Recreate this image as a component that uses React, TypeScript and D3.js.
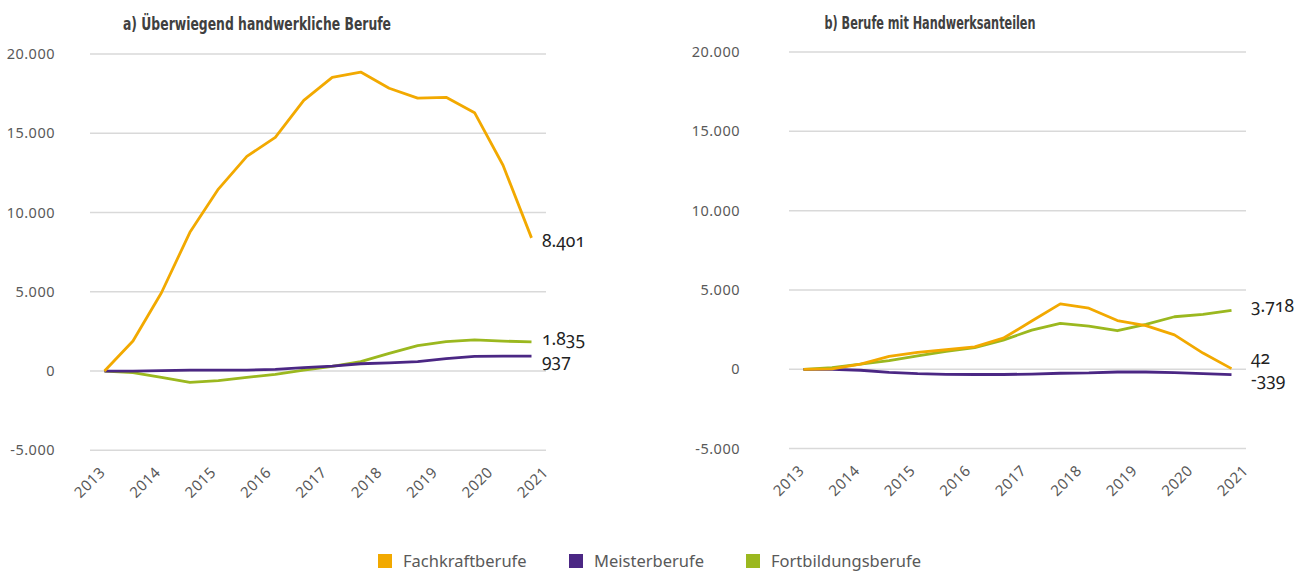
import React from 'react';
import * as d3 from 'd3';

// ---------- data ----------
const years = ['2013', '2014', '2015', '2016', '2017', '2018', '2019', '2020', '2021'];
const periods = [0, 1, 2, 3, 4, 5, 6, 7, 8, 9, 10, 11, 12, 13, 14, 15];
const yTicks = [-5000, 0, 5000, 10000, 15000, 20000];

const seriesNames = ['Fachkraftberufe', 'Meisterberufe', 'Fortbildungsberufe'];
const seriesColors = ['#F2A900', '#4B2784', '#9BB81F'];

const fachkraftA = [0, 1900, 4940, 8750, 11480, 13540, 14740, 17070, 18530, 18860, 17840, 17220, 17270, 16300, 12980, 8401];
const meisterA = [0, 0, 30, 60, 60, 60, 100, 210, 310, 460, 520, 600, 780, 930, 945, 937];
const fortbildungA = [0, -100, -400, -710, -610, -400, -210, 60, 300, 590, 1120, 1600, 1850, 1960, 1890, 1835];

const fachkraftB = [0, 20, 330, 810, 1060, 1230, 1410, 1960, 3040, 4120, 3850, 3070, 2750, 2170, 1020, 42];
const meisterB = [0, 0, -60, -190, -280, -320, -330, -330, -300, -250, -230, -170, -170, -210, -270, -339];
const fortbildungB = [0, 100, 330, 540, 840, 1130, 1360, 1840, 2470, 2890, 2720, 2430, 2830, 3310, 3460, 3718];

const titleA = 'a) Überwiegend handwerkliche Berufe';
const titleB = 'b) Berufe mit Handwerksanteilen';

// ---------- formatting ----------
const de = d3.formatLocale({ decimal: ',', thousands: '.', grouping: [3], currency: ['', ' €'], minus: '-' });
const fmt = de.format(',d');

const FONT = "'Noto Sans', 'Open Sans', sans-serif";
const TITLE_FONT = "'DejaVu Sans Condensed', 'Liberation Sans Narrow', 'Noto Sans', sans-serif";

type PanelProps = {
  x0: number; x1: number; yTop: number; yBottom: number;
  title: string; titleX: number; titleY: number; titleW: number;
  data: number[][]; labelX: number; labelDy: number[];
  tickLabelX: number;
};

function Panel(p: PanelProps) {
  const y = d3.scaleLinear().domain([-5000, 20000]).range([p.yBottom, p.yTop]);
  const x = d3.scaleLinear().domain([periods[0], periods[periods.length - 1]]).range([p.x0 + 14.5, p.x1 - 14.5]);
  const xl = d3.scalePoint<string>().domain(years).range([p.x0 + 16, p.x1 + 3]);
  const line = d3.line<number>().x((_, i) => x(periods[i])).y((d) => y(d));
  // draw order: Fortbildung, Meister, Fachkraft on top
  const order = [2, 1, 0];
  return (
    <g>
      <text x={p.titleX} y={p.titleY} textAnchor="middle" fontFamily={TITLE_FONT} fontWeight="bold" fontSize={18} fill="#404040"
        textLength={p.titleW} lengthAdjust="spacingAndGlyphs">
        {p.title}
      </text>
      {yTicks.map((t) => (
        <g key={t}>
          <line x1={p.x0} x2={p.x1} y1={y(t)} y2={y(t)} stroke="#d9d9d9" strokeWidth={1.5} />
          <text x={p.tickLabelX} y={y(t)} dy="0.35em" textAnchor="end" fontFamily={FONT} fontSize={14.5} fill="#595959" letterSpacing={0.5}>
            {fmt(t)}
          </text>
        </g>
      ))}
      {years.map((yr) => (
        <text key={yr} transform={`translate(${xl(yr)},${p.yBottom + 23}) rotate(-45)`} textAnchor="end" fontFamily={FONT} fontSize={15} fill="#595959" letterSpacing={0.4}>
          {yr}
        </text>
      ))}
      {order.map((si) => (
        <path key={si} d={line(p.data[si]) || ''} fill="none" stroke={seriesColors[si]} strokeWidth={2.8} strokeLinejoin="round" />
      ))}
      {order.map((si) => {
        const arr = p.data[si];
        const v = arr[arr.length - 1];
        return (
          <text key={'l' + si} x={p.labelX} y={y(v) + p.labelDy[si]} fontFamily={FONT} fontSize={17.5} fill="#222" style={{ fontVariantNumeric: 'oldstyle-nums' }}>
            {fmt(v)}
          </text>
        );
      })}
    </g>
  );
}

function Legend() {
  const pos = d3.scaleOrdinal<string, number>().domain(seriesNames).range([378, 569, 746]);
  return (
    <g>
      {seriesNames.map((n, i) => (
        <g key={n}>
          <rect x={pos(n)} y={554} width={14} height={14} fill={seriesColors[i]} />
          <text x={pos(n) + 25} y={567} fontFamily={FONT} fontSize={16.5} fill="#595959">{n}</text>
        </g>
      ))}
    </g>
  );
}

export default function App() {
  return (
    <svg width={1304} height={572} style={{ position: 'absolute', left: 0, top: 0, background: '#fff' }}>
      <rect width={1304} height={572} fill="#fff" />
      <Panel x0={90} x1={546} yTop={54} yBottom={450.3} title={titleA} titleX={257} titleY={30} titleW={268}
        data={[fachkraftA, meisterA, fortbildungA]} labelX={542} labelDy={[9, 11, 3]} tickLabelX={55} />
      <Panel x0={789} x1={1246} yTop={52} yBottom={448.6} title={titleB} titleX={930} titleY={29} titleW={211}
        data={[fachkraftB, meisterB, fortbildungB]} labelX={1251} labelDy={[-5, 11, 2]} tickLabelX={740} />
      <Legend />
    </svg>
  );
}
